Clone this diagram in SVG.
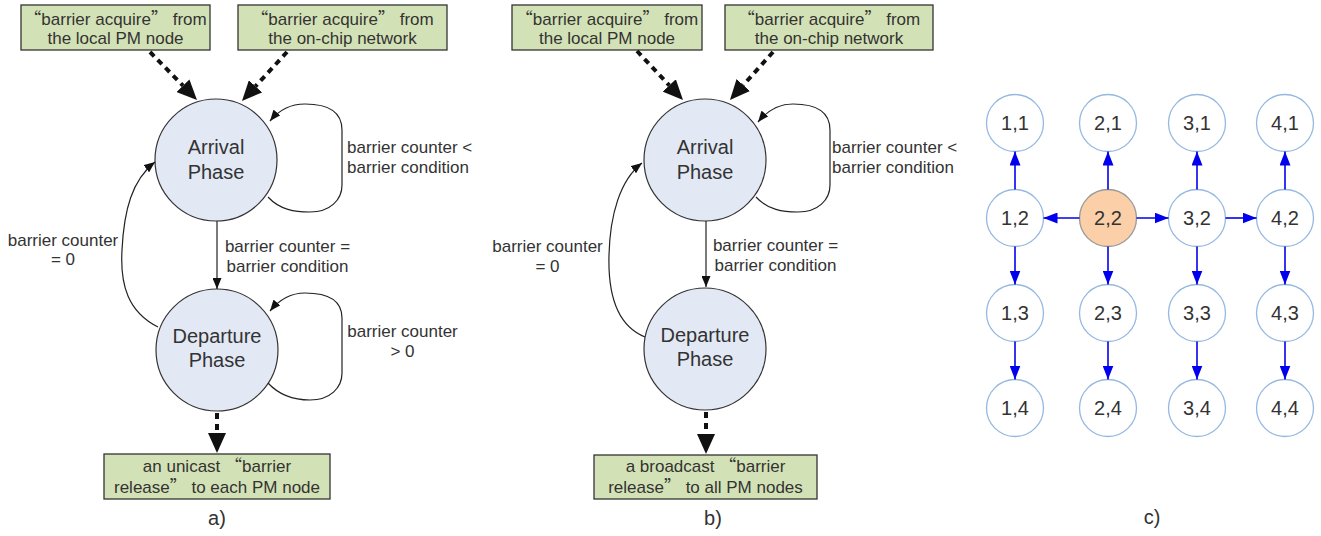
<svg xmlns="http://www.w3.org/2000/svg" width="1321" height="536" viewBox="0 0 1321 536">
<style>
.bg{fill:#ffffff}
.box rect{fill:#d3e2b6;stroke:#333;stroke-width:1.3}
.state circle{fill:#e2e9f5;stroke:#333;stroke-width:1.2}
text{font-family:"Liberation Sans",Arial,sans-serif;fill:#333}
.t17{font-size:17px}
.t20{font-size:20px}
.q{font-family:"Noto Sans CJK SC","Liberation Sans",sans-serif}
.mid{text-anchor:middle}
.dash{stroke:#111;stroke-width:4;stroke-dasharray:6 5;fill:none}
.thin{stroke:#222;stroke-width:1.2;fill:none}
.grid circle{fill:#fff;stroke:#95b8e0;stroke-width:1.3}
.grid .hot circle{fill:#fbcfa8;stroke:#999}
.blue{stroke:#0000ee;stroke-width:1.6;fill:none}
</style>
<defs>
<marker id="big" markerUnits="userSpaceOnUse" markerWidth="20" markerHeight="18" viewBox="0 0 20 18" refX="0" refY="9" orient="auto"><path d="M0,0 L20,9 L0,18 z" fill="#111"/></marker>
<marker id="sm" markerUnits="userSpaceOnUse" markerWidth="11" markerHeight="9" viewBox="0 0 11 9" refX="11" refY="4.5" orient="auto"><path d="M0,0 L11,4.5 L0,9 z" fill="#111"/></marker>
<marker id="bl" markerUnits="userSpaceOnUse" markerWidth="14" markerHeight="11" viewBox="0 0 14 11" refX="14" refY="5.5" orient="auto"><path d="M0,0 L14,5.5 L0,11 z" fill="#0000ee"/></marker>
</defs>
<rect class="bg" x="0" y="0" width="1321" height="536"/>

<!-- Panel a -->
<g id="a-box-local" class="box"><rect x="21" y="5" width="189" height="45"/>
<text class="t17 mid" x="115.5" y="25"><tspan class="q">“</tspan>barrier acquire<tspan class="q">”</tspan> from</text>
<text class="t17 mid" x="115.5" y="44">the local PM node</text></g>
<g id="a-box-net" class="box"><rect x="238" y="5" width="209" height="45"/>
<text class="t17 mid" x="342.5" y="25"><tspan class="q">“</tspan>barrier acquire<tspan class="q">”</tspan> from</text>
<text class="t17 mid" x="342.5" y="44">the on-chip network</text></g>
<g id="a-arrival" class="state"><circle cx="216" cy="160" r="61"/>
<text class="t20 mid" x="216" y="154">Arrival</text><text class="t20 mid" x="216" y="179">Phase</text></g>
<g id="a-departure" class="state"><circle cx="217" cy="350" r="61"/>
<text class="t20 mid" x="217" y="343">Departure</text><text class="t20 mid" x="217" y="367">Phase</text></g>
<g id="a-box-release" class="box"><rect x="104" y="454" width="226" height="45"/>
<text class="t17 mid" x="217" y="471.5">an unicast <tspan class="q">“</tspan>barrier</text>
<text class="t17 mid" x="217" y="493">release<tspan class="q">”</tspan> to each PM node</text></g>
<text class="t20 mid" x="217" y="525">a)</text>

<!-- Panel b -->
<g id="b-box-local" class="box"><rect x="512" y="5" width="190" height="45"/>
<text class="t17 mid" x="607" y="25"><tspan class="q">“</tspan>barrier acquire<tspan class="q">”</tspan> from</text>
<text class="t17 mid" x="607" y="44">the local PM node</text></g>
<g id="b-box-net" class="box"><rect x="725" y="5" width="208" height="45"/>
<text class="t17 mid" x="829" y="25"><tspan class="q">“</tspan>barrier acquire<tspan class="q">”</tspan> from</text>
<text class="t17 mid" x="829" y="44">the on-chip network</text></g>
<g id="b-arrival" class="state"><circle cx="705" cy="160" r="61"/>
<text class="t20 mid" x="705" y="154">Arrival</text><text class="t20 mid" x="705" y="179">Phase</text></g>
<g id="b-departure" class="state"><circle cx="705" cy="349" r="61"/>
<text class="t20 mid" x="705" y="342">Departure</text><text class="t20 mid" x="705" y="366">Phase</text></g>
<g id="b-box-release" class="box"><rect x="594" y="455" width="223" height="44"/>
<text class="t17 mid" x="705.5" y="471.5">a broadcast <tspan class="q">“</tspan>barrier</text>
<text class="t17 mid" x="705.5" y="493">release<tspan class="q">”</tspan> to all PM nodes</text></g>
<text class="t20 mid" x="713" y="525">b)</text>

<!-- Panel c -->
<g class="grid">
<g id="n11"><circle cx="1015" cy="123" r="28.5"/><text class="t20 mid" x="1015" y="130">1,1</text></g>
<g id="n21"><circle cx="1108" cy="123" r="28.5"/><text class="t20 mid" x="1108" y="130">2,1</text></g>
<g id="n31"><circle cx="1197" cy="123" r="28.5"/><text class="t20 mid" x="1197" y="130">3,1</text></g>
<g id="n41"><circle cx="1285" cy="123" r="28.5"/><text class="t20 mid" x="1285" y="130">4,1</text></g>
<g id="n12"><circle cx="1015" cy="218" r="28.5"/><text class="t20 mid" x="1015" y="225">1,2</text></g>
<g id="n22" class="hot"><circle cx="1108" cy="218" r="28.5"/><text class="t20 mid" x="1108" y="225">2,2</text></g>
<g id="n32"><circle cx="1197" cy="218" r="28.5"/><text class="t20 mid" x="1197" y="225">3,2</text></g>
<g id="n42"><circle cx="1285" cy="218" r="28.5"/><text class="t20 mid" x="1285" y="225">4,2</text></g>
<g id="n13"><circle cx="1015" cy="313" r="28.5"/><text class="t20 mid" x="1015" y="320">1,3</text></g>
<g id="n23"><circle cx="1108" cy="313" r="28.5"/><text class="t20 mid" x="1108" y="320">2,3</text></g>
<g id="n33"><circle cx="1197" cy="313" r="28.5"/><text class="t20 mid" x="1197" y="320">3,3</text></g>
<g id="n43"><circle cx="1285" cy="313" r="28.5"/><text class="t20 mid" x="1285" y="320">4,3</text></g>
<g id="n14"><circle cx="1015" cy="408" r="28.5"/><text class="t20 mid" x="1015" y="415">1,4</text></g>
<g id="n24"><circle cx="1108" cy="408" r="28.5"/><text class="t20 mid" x="1108" y="415">2,4</text></g>
<g id="n34"><circle cx="1197" cy="408" r="28.5"/><text class="t20 mid" x="1197" y="415">3,4</text></g>
<g id="n44"><circle cx="1285" cy="408" r="28.5"/><text class="t20 mid" x="1285" y="415">4,4</text></g>
</g>
<text class="t20 mid" x="1152" y="524">c)</text>

<!-- Connectors -->
<g id="connectors">
<line class="dash" x1="150" y1="52" x2="183" y2="85.7" marker-end="url(#big)"/>
<line class="dash" x1="287" y1="52" x2="255.5" y2="86.3" marker-end="url(#big)"/>
<line class="dash" x1="217" y1="413" x2="217" y2="433" marker-end="url(#big)"/>
<path class="thin" d="M268,197 C280,210 295,212 310,212 C330,212 342,200 342,185 L342,130 C342,112 328,104 305,104 C290,104 279,110 270,121" marker-end="url(#sm)"/>
<path class="thin" d="M268,383 C280,396 295,400 310,400 C330,400 342,388 342,373 L342,318 C342,300 328,293 305,293 C290,293 279,300 270,311" marker-end="url(#sm)"/>
<line class="thin" x1="217" y1="221" x2="217" y2="289" marker-end="url(#sm)"/>
<path class="thin" d="M158,327 C128,312 120,285 122,250 C124,210 132,180 155,162" marker-end="url(#sm)"/>

<line class="dash" x1="637" y1="51" x2="669.3" y2="85.4" marker-end="url(#big)"/>
<line class="dash" x1="773" y1="52" x2="743.3" y2="85.1" marker-end="url(#big)"/>
<line class="dash" x1="706" y1="412" x2="706" y2="434" marker-end="url(#big)"/>
<path class="thin" d="M756,197 C768,210 783,212 798,212 C818,212 830,200 830,185 L830,130 C830,112 816,104 793,104 C778,104 767,111 758,122" marker-end="url(#sm)"/>
<line class="thin" x1="706" y1="221" x2="706" y2="287" marker-end="url(#sm)"/>
<path class="thin" d="M645,337 C615,325 608,290 609,255 C610,215 620,180 642,163" marker-end="url(#sm)"/>

<line class="blue" x1="1015" y1="189.5" x2="1015" y2="151.5" marker-end="url(#bl)"/>
<line class="blue" x1="1108" y1="189.5" x2="1108" y2="151.5" marker-end="url(#bl)"/>
<line class="blue" x1="1197" y1="189.5" x2="1197" y2="151.5" marker-end="url(#bl)"/>
<line class="blue" x1="1285" y1="189.5" x2="1285" y2="151.5" marker-end="url(#bl)"/>
<line class="blue" x1="1079.5" y1="218" x2="1043.5" y2="218" marker-end="url(#bl)"/>
<line class="blue" x1="1136.5" y1="218" x2="1168.5" y2="218" marker-end="url(#bl)"/>
<line class="blue" x1="1225.5" y1="218" x2="1256.5" y2="218" marker-end="url(#bl)"/>
<line class="blue" x1="1015" y1="246.5" x2="1015" y2="284.5" marker-end="url(#bl)"/>
<line class="blue" x1="1108" y1="246.5" x2="1108" y2="284.5" marker-end="url(#bl)"/>
<line class="blue" x1="1197" y1="246.5" x2="1197" y2="284.5" marker-end="url(#bl)"/>
<line class="blue" x1="1285" y1="246.5" x2="1285" y2="284.5" marker-end="url(#bl)"/>
<line class="blue" x1="1015" y1="341.5" x2="1015" y2="379.5" marker-end="url(#bl)"/>
<line class="blue" x1="1108" y1="341.5" x2="1108" y2="379.5" marker-end="url(#bl)"/>
<line class="blue" x1="1197" y1="341.5" x2="1197" y2="379.5" marker-end="url(#bl)"/>
<line class="blue" x1="1285" y1="341.5" x2="1285" y2="379.5" marker-end="url(#bl)"/>
</g>

<!-- Connector labels -->
<g id="labels">
<text class="t17" x="347" y="153">barrier counter &lt;</text>
<text class="t17" x="347" y="173">barrier condition</text>
<text class="t17 mid" x="402.5" y="337">barrier counter</text>
<text class="t17 mid" x="402.5" y="357">&gt; 0</text>
<text class="t17 mid" x="287.5" y="252">barrier counter =</text>
<text class="t17 mid" x="287.5" y="272">barrier condition</text>
<text class="t17 mid" x="63" y="246">barrier counter</text>
<text class="t17 mid" x="63" y="265">= 0</text>
<text class="t17" x="832" y="153">barrier counter &lt;</text>
<text class="t17" x="832" y="173">barrier condition</text>
<text class="t17 mid" x="775.5" y="251">barrier counter =</text>
<text class="t17 mid" x="775.5" y="271">barrier condition</text>
<text class="t17 mid" x="547.5" y="252">barrier counter</text>
<text class="t17 mid" x="547.5" y="272">= 0</text>
</g>
</svg>
